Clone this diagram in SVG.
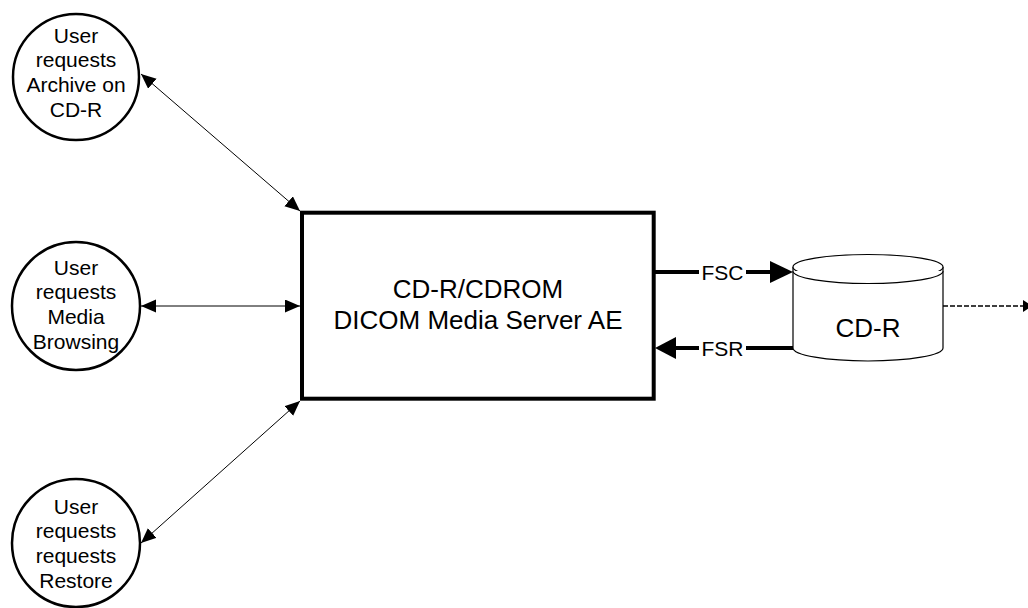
<svg xmlns="http://www.w3.org/2000/svg" width="1028" height="608" viewBox="0 0 1028 608">
<style>
text{font-family:"Liberation Sans",Arial,sans-serif;fill:#000;text-anchor:middle}
.ct{font-size:21px}
.bt{font-size:26px}
.lt{font-size:21px}
.circ{fill:#fff;stroke:#000;stroke-width:2.5}
.thin{fill:none;stroke:#000;stroke-width:1}
.thick{fill:none;stroke:#000;stroke-width:4}
.cyl{fill:#fff;stroke:#000;stroke-width:1.2}
</style>
<defs>
<marker id="ah" markerUnits="userSpaceOnUse" markerWidth="16" markerHeight="14" refX="15" refY="6.5" orient="auto-start-reverse">
<path d="M0,0 L15,6.5 L0,13 z" fill="#000"/>
</marker>
</defs>
<rect width="1028" height="608" fill="#fff"/>
<g id="connectors">
<line class="thin" x1="141" y1="74" x2="300" y2="211" marker-start="url(#ah)" marker-end="url(#ah)"/>
<line class="thin" x1="141" y1="306" x2="300" y2="306" marker-start="url(#ah)" marker-end="url(#ah)"/>
<line class="thin" x1="141" y1="543" x2="300" y2="401" marker-start="url(#ah)" marker-end="url(#ah)"/>
<g id="fsc">
<line class="thick" x1="654" y1="272" x2="699" y2="272"/>
<line class="thick" x1="746" y1="272" x2="772" y2="272"/>
<polygon points="770,261 793,272 770,283" fill="#000"/>
<text class="lt" x="722.5" y="279.5">FSC</text>
</g>
<g id="fsr">
<line class="thick" x1="793" y1="348" x2="746" y2="348"/>
<line class="thick" x1="699" y1="348" x2="673" y2="348"/>
<polygon points="676,337 655,348 676,359" fill="#000"/>
<text class="lt" x="722.5" y="355.5">FSR</text>
</g>
<line x1="943" y1="306" x2="1023" y2="306" stroke="#000" stroke-width="1.3" stroke-dasharray="5,2"/>
<polygon points="1023,300 1032,306 1023,312" fill="#000"/>
</g>
<g id="archive">
<circle class="circ" cx="76" cy="77" r="63"/>
<text class="ct" x="76" y="43">User</text>
<text class="ct" x="76" y="67">requests</text>
<text class="ct" x="76" y="92">Archive on</text>
<text class="ct" x="76" y="117">CD-R</text>
</g>
<g id="browse">
<circle class="circ" cx="76" cy="306" r="64"/>
<text class="ct" x="76" y="275">User</text>
<text class="ct" x="76" y="299">requests</text>
<text class="ct" x="76" y="324">Media</text>
<text class="ct" x="76" y="349">Browsing</text>
</g>
<g id="restore">
<circle class="circ" cx="76" cy="543" r="64"/>
<text class="ct" x="76" y="514">User</text>
<text class="ct" x="76" y="538">requests</text>
<text class="ct" x="76" y="563">requests</text>
<text class="ct" x="76" y="588">Restore</text>
</g>
<g id="server">
<rect x="302" y="212.7" width="351.7" height="186" fill="#fff" stroke="#000" stroke-width="4"/>
<text class="bt" x="478" y="298">CD-R/CDROM</text>
<text class="bt" x="478" y="329">DICOM Media Server AE</text>
</g>
<g id="cdr">
<path class="cyl" d="M793,267 L793,348 A75,13 0 0 0 943,348 L943,267"/>
<ellipse class="cyl" cx="868" cy="267" rx="75" ry="12.5"/>
<path class="cyl" d="M793,271 A75,12.5 0 0 0 943,271"/>
<text class="bt" x="868" y="337">CD-R</text>
</g>
</svg>
